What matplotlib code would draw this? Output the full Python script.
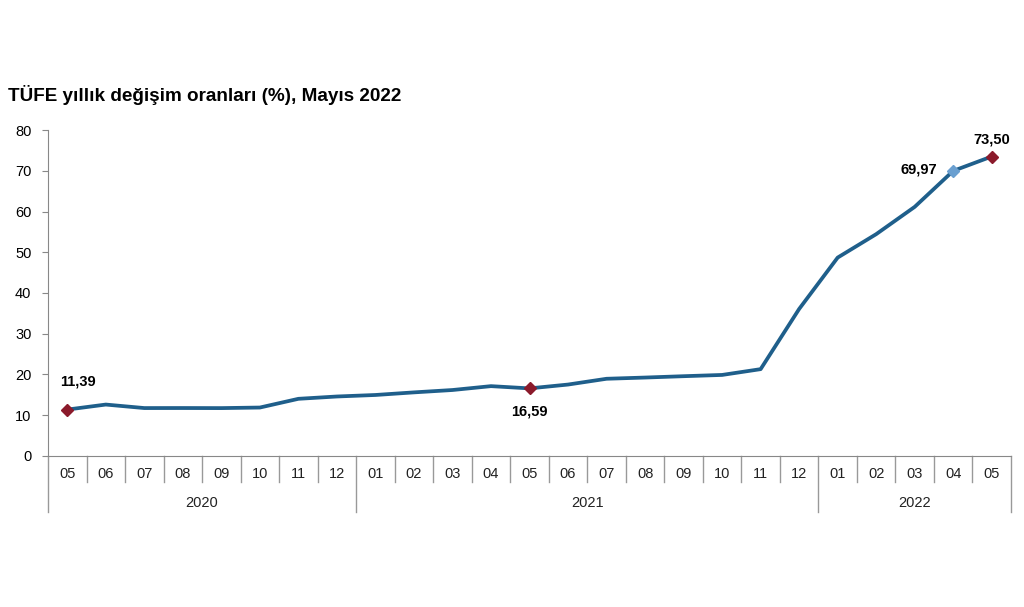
import matplotlib
matplotlib.use("Agg")
import matplotlib.pyplot as plt
from matplotlib.transforms import blended_transform_factory

months = ["05", "06", "07", "08", "09", "10", "11", "12",
          "01", "02", "03", "04", "05", "06", "07", "08", "09", "10", "11", "12",
          "01", "02", "03", "04", "05"]
years = ["2020", "2021", "2022"]
year_counts = [8, 12, 5]
values = [11.39, 12.62, 11.76, 11.77, 11.75, 11.89, 14.03, 14.60,
          14.97, 15.61, 16.19, 17.14, 16.59, 17.53, 18.95, 19.25, 19.58, 19.89, 21.31, 36.08,
          48.69, 54.44, 61.14, 69.97, 73.50]
title = "TÜFE yıllık değişim oranları (%), Mayıs 2022"

plt.rcParams['font.family'] = ['Liberation Sans', 'DejaVu Sans']

fig = plt.figure(figsize=(10.24, 6.07), dpi=100)
ax = fig.add_axes([0.0469, 0.2488, 0.9404, 0.537])
x = list(range(len(values)))
ax.plot(x, values, color="#1f5f8b", lw=2.7, zorder=2)

red = "#8b1a2b"
for i, c in [(0, red), (12, red), (24, red), (23, "#6a9fd0")]:
    ax.plot(x[i], values[i], marker="D", ms=6, color=c, zorder=3)

def lab(v):
    return f"{v:.2f}".replace(".", ",")

ax.annotate(lab(values[0]), (x[0], values[0]), xytext=(-5, 20), textcoords="offset points",
            ha="left", va="center", fontsize=10.5, fontweight="bold")
ax.annotate(lab(values[12]), (x[12], values[12]), xytext=(0, -17), textcoords="offset points",
            ha="center", va="center", fontsize=10.5, fontweight="bold")
ax.annotate(lab(values[23]), (x[23], values[23]), xytext=(-25, 1), textcoords="offset points",
            ha="center", va="center", fontsize=10.5, fontweight="bold")
ax.annotate(lab(values[24]), (x[24], values[24]), xytext=(0, 12), textcoords="offset points",
            ha="center", va="center", fontsize=10.5, fontweight="bold")

ax.set_xlim(-0.5, len(values) - 0.5)
ax.set_ylim(0, 80)
ax.set_yticks(range(0, 81, 10))
ax.tick_params(axis="y", labelsize=10.5, length=4, color="#888888", pad=8)
ax.set_xticks([])
for s in ["top", "right"]:
    ax.spines[s].set_visible(False)
ax.spines["left"].set_color("#888888")
ax.spines["bottom"].set_color("#888888")

trans = blended_transform_factory(ax.transData, ax.transAxes)
for i, m in enumerate(months):
    ax.text(i, -0.055, m, transform=trans, ha="center", va="center", fontsize=10.5, color="#222222")

bounds = [-0.5]
for c in year_counts:
    bounds.append(bounds[-1] + c)
for b in range(len(values) + 1):
    xb = b - 0.5
    low = -0.172 if xb in bounds else -0.08
    ax.plot([xb, xb], [0, low], transform=trans, color="#999999", lw=1, clip_on=False)
for j, y in enumerate(years):
    ax.text((bounds[j] + bounds[j + 1]) / 2, -0.144, y, transform=trans, ha="center",
            va="center", fontsize=10.5, color="#222222")

fig.text(0.008, 0.843, title, ha="left", va="center", fontsize=13.6, fontweight="bold")

fig.savefig("out.png", dpi=100, facecolor="white")
